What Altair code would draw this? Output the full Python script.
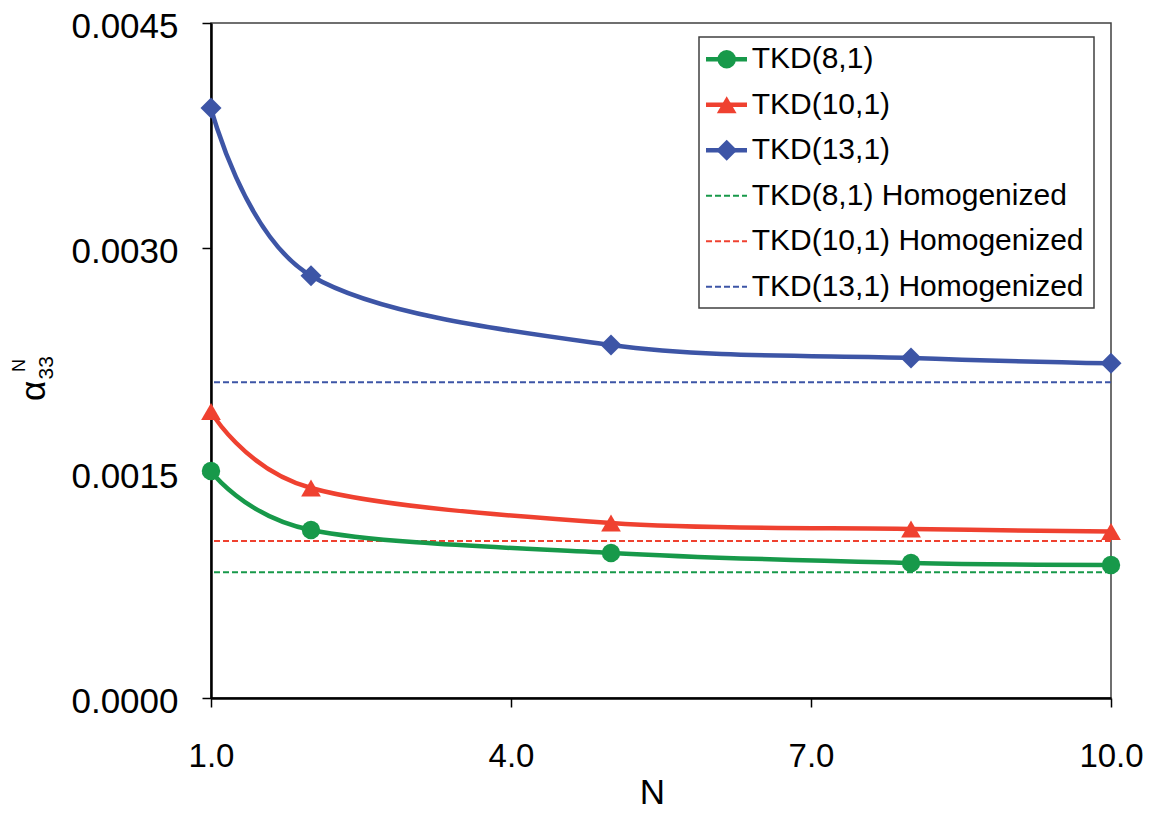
import altair as alt
import pandas as pd

# ---- data ----
N = [1, 2, 5, 8, 10]
tkd8 = [0.001513, 0.00112, 0.000967, 0.000900, 0.000887]
tkd10 = [0.001910, 0.001400, 0.001167, 0.001127, 0.001110]
tkd13 = [0.003933, 0.002815, 0.002353, 0.002267, 0.002231]
homog = [0.000838, 0.001047, 0.002105]

series = ["TKD(8,1)", "TKD(10,1)", "TKD(13,1)"]
hom_labels = ["TKD(8,1) Homogenized", "TKD(10,1) Homogenized", "TKD(13,1) Homogenized"]
x_ticks = [1, 4, 7, 10]
y_ticks = [0.0, 0.0015, 0.0030, 0.0045]

# ---- styles ----
colors = ["#17994A", "#EF4130", "#3D55A6"]
shapes = ["circle", "triangle-up", "diamond"]
sizes = [340, 440, 340]
FONT = "Liberation Sans"

all_labels = series + hom_labels
color_scale = alt.Scale(domain=all_labels, range=colors + colors)
shape_scale = alt.Scale(domain=series, range=shapes)
size_scale = alt.Scale(domain=series, range=sizes)

rows = []
for s, vals in zip(series, [tkd8, tkd10, tkd13]):
    for n, v in zip(N, vals):
        rows.append({"N": n, "value": v, "series": s})
df = pd.DataFrame(rows)
df_h = pd.DataFrame({"value": homog, "series": hom_labels})

x_enc = alt.X(
    "N:Q",
    scale=alt.Scale(domain=[1, 10], nice=False, zero=False),
    axis=alt.Axis(
        values=x_ticks, format=".1f", title="N", grid=False, labelFlush=False,
        labelFont=FONT, labelFontSize=33, labelColor="black", labelPadding=33,
        tickSize=9, tickWidth=1.5, tickColor="black",
        domainColor="black", domainWidth=2.5,
        titleFont=FONT, titleFontSize=35, titleFontWeight="normal", titleColor="black",
        titleBaseline="alphabetic", titleY=105, titleX=441,
    ),
)
y_enc = alt.Y(
    "value:Q",
    scale=alt.Scale(domain=[0, 0.0045], nice=False, zero=True),
    axis=alt.Axis(
        values=y_ticks, format=".4f", title=None, grid=False, labelFlush=False,
        labelFont=FONT, labelFontSize=35, labelColor="black", labelPadding=24,
        labelOffset=3,
        tickSize=9, tickWidth=1.5, tickColor="black",
        domainColor="black", domainWidth=2.5,
    ),
)

rules = alt.Chart(df_h).mark_rule(strokeDash=[6, 3], strokeWidth=2).encode(
    y=y_enc,
    color=alt.Color("series:N", scale=color_scale, legend=None),
)
lines = alt.Chart(df).mark_line(interpolate="cardinal", strokeWidth=4.5).encode(
    x=x_enc, y=y_enc,
    color=alt.Color("series:N", scale=color_scale, legend=None),
    detail="series:N",
)
points = alt.Chart(df).mark_point(filled=True, opacity=1).encode(
    x=x_enc, y=y_enc,
    color=alt.Color("series:N", scale=color_scale, legend=None),
    shape=alt.Shape("series:N", scale=shape_scale, legend=None),
    size=alt.Size("series:N", scale=size_scale, legend=None),
)

# ---- legend (custom, inside plot) ----
leg = pd.DataFrame({
    "label": all_labels,
    "row": list(range(len(all_labels))),
    "kind": ["solid"] * 3 + ["dash"] * 3,
})
leg_base = alt.Chart(leg).transform_calculate(ly="36.3 + 45.5 * datum.row")
ly = alt.Y("ly:Q", scale=None, axis=None)

leg_box = alt.Chart(pd.DataFrame({"a": [0]})).mark_rect(
    fill="white", stroke="#404040", strokeWidth=1.5
).encode(x=alt.value(488), x2=alt.value(883), y=alt.value(14), y2=alt.value(285))

leg_solid = leg_base.transform_filter("datum.kind == 'solid'").mark_rule(strokeWidth=4.5).encode(
    x=alt.value(495), x2=alt.value(536), y=ly,
    color=alt.Color("label:N", scale=color_scale, legend=None),
)
leg_dash = leg_base.transform_filter("datum.kind == 'dash'").mark_rule(strokeWidth=2, strokeDash=[6, 3]).encode(
    x=alt.value(495), x2=alt.value(536), y=ly,
    color=alt.Color("label:N", scale=color_scale, legend=None),
)
leg_pts = leg_base.transform_filter("datum.kind == 'solid'").mark_point(filled=True, opacity=1).encode(
    x=alt.value(515.7), y=ly,
    color=alt.Color("label:N", scale=color_scale, legend=None),
    shape=alt.Shape("label:N", scale=shape_scale, legend=None),
    size=alt.Size("label:N", scale=size_scale, legend=None),
)
leg_text = leg_base.mark_text(
    align="left", baseline="middle", font=FONT, fontSize=30, color="black"
).encode(x=alt.value(540.7), y=ly, text="label:N")

# ---- y-axis title: alpha with sub/superscript ----
one = pd.DataFrame({"a": [0]})
t_alpha = alt.Chart(one).mark_text(
    text="α", angle=270, font=FONT, fontSize=35, align="center", baseline="alphabetic", color="black"
).encode(x=alt.value(-166), y=alt.value(368))
t_sub = alt.Chart(one).mark_text(
    text="33", angle=270, font=FONT, fontSize=21, align="left", baseline="alphabetic", color="black"
).encode(x=alt.value(-158), y=alt.value(356.5))
t_sup = alt.Chart(one).mark_text(
    text="N", angle=270, font=FONT, fontSize=18, align="left", baseline="alphabetic", color="black"
).encode(x=alt.value(-186), y=alt.value(349))

chart = alt.layer(
    rules, lines, points,
    leg_box, leg_solid, leg_dash, leg_pts, leg_text,
    t_alpha, t_sub, t_sup,
).properties(
    width=900, height=675,
    autosize=alt.AutoSizeParams(type="none"),
    padding={"left": 203, "top": 15, "right": 32, "bottom": 108},
    background="white",
).configure_view(stroke="#404040", strokeWidth=1.5)

chart.save("out.html", embed_options={"renderer": "svg", "actions": False})
